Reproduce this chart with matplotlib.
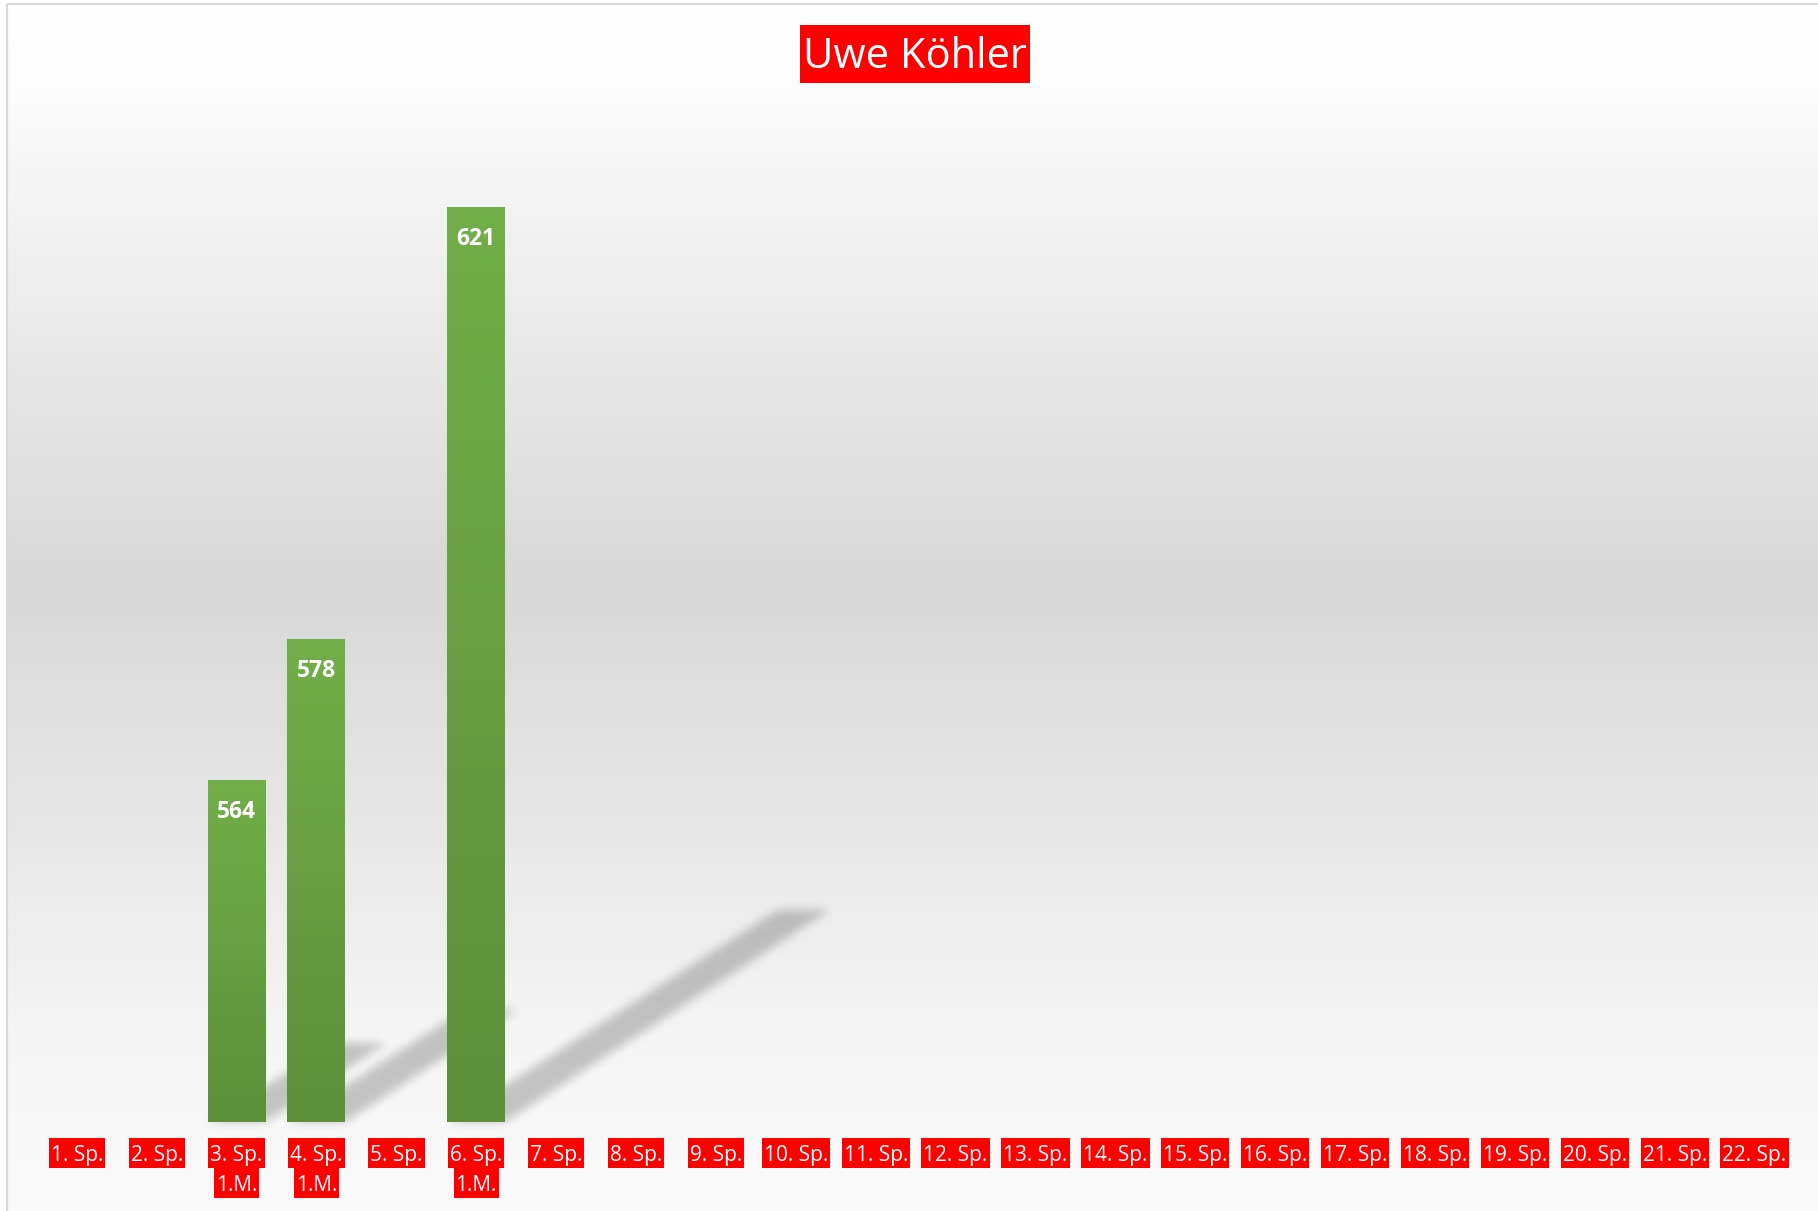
import numpy as np
import matplotlib

matplotlib.use("Agg")
import matplotlib.pyplot as plt
from matplotlib.colors import to_rgb
from matplotlib.patches import Rectangle
from matplotlib.path import Path

W, H, DPI = 1818, 1211, 100
FONT = "Open Sans"
RED = "#ff0000"

title = "Uwe Köhler"
spiele = ["1. Sp.", "2. Sp.", "3. Sp.", "4. Sp.", "5. Sp.", "6. Sp.", "7. Sp.",
          "8. Sp.", "9. Sp.", "10. Sp.", "11. Sp.", "12. Sp.", "13. Sp.",
          "14. Sp.", "15. Sp.", "16. Sp.", "17. Sp.", "18. Sp.", "19. Sp.",
          "20. Sp.", "21. Sp.", "22. Sp."]
zusatz = ["", "", "1.M.", "1.M.", "", "1.M.", "", "", "", "", "", "", "", "",
          "", "", "", "", "", "", "", ""]
punkte = [np.nan, np.nan, 564, 578, np.nan, 621, np.nan, np.nan, np.nan,
          np.nan, np.nan, np.nan, np.nan, np.nan, np.nan, np.nan, np.nan,
          np.nan, np.nan, np.nan, np.nan, np.nan]
y_min, y_max = 530, 630


def box_blur(img, r, passes=3):
    # separable box blur, a few passes ~ gaussian
    for _ in range(passes):
        for axis in (0, 1):
            c = np.cumsum(np.pad(img, [(r + 1, r) if a == axis else (0, 0)
                                       for a in range(2)], mode="edge"), axis=axis)
            if axis == 0:
                img = (c[2 * r + 1:] - c[:-2 * r - 1]) / (2 * r + 1)
            else:
                img = (c[:, 2 * r + 1:] - c[:, :-2 * r - 1]) / (2 * r + 1)
    return img


fig = plt.figure(figsize=(W / DPI, H / DPI), dpi=DPI)
fig.patch.set_facecolor("white")

# ---- background: chart area gradient + border ---------------------------- #
bg = fig.add_axes([0, 0, 1, 1], zorder=0)
bg.set_xlim(0, W)
bg.set_ylim(0, H)
bg.axis("off")
stops_f = [0.0, 0.06, 0.48, 0.88, 1.0]
stops_v = [255, 253, 216, 247, 250]
fr = np.linspace(0, 1, 400)
grey = np.interp(fr, stops_f, stops_v) / 255.0
grad = np.repeat(grey[:, None, None], 3, axis=2)
bg.imshow(grad, extent=[8, W, 0, H - 5], origin="upper", aspect="auto",
          zorder=0, interpolation="bilinear")
bg.plot([7, 7], [0, H - 4], color="#d9d9d9", lw=1.6, zorder=1,
        solid_capstyle="butt")
bg.plot([7, W], [H - 4, H - 4], color="#d9d9d9", lw=1.6, zorder=1,
        solid_capstyle="butt")
bg.set_xlim(0, W)
bg.set_ylim(0, H)

t = bg.text(915, H - 57, title, ha="center", va="center", fontsize=30,
            family=FONT, color="white", zorder=6)

# ---- bars ---------------------------------------------------------------- #
ax = fig.add_axes([36.8 / W, 89 / H, 1757.7 / W, 1005 / H], zorder=1)
ax.patch.set_alpha(0)
x = np.arange(1, len(spiele) + 1)
bars = ax.bar(x, punkte, width=0.725, color="#66a042", zorder=2)
ax.set_xlim(0.5, len(spiele) + 0.5)
ax.set_ylim(y_min, y_max)
for s in ax.spines.values():
    s.set_visible(False)
ax.set_yticks([])
ax.set_xticks(x, spiele)
ax.tick_params(axis="x", length=0, pad=16.4)
for lab in ax.get_xticklabels():
    lab.set_family(FONT)
    lab.set_fontsize(15)
    lab.set_color("white")

second = []
for xi, z in zip(x, zusatz):
    if z:
        second.append(ax.annotate(
            z, xy=(xi, 0), xycoords=("data", "axes fraction"),
            xytext=(0, -38.0), textcoords="offset points", ha="center",
            va="top", fontsize=15, family=FONT, color="white",
            annotation_clip=False))

top_c = np.array(to_rgb("#72ae49"))
bot_c = np.array(to_rgb("#5c8f3a"))
shadow = np.zeros((H, W))
trans = ax.transData
for rect, v in zip(bars, punkte):
    if not np.isfinite(v):
        continue
    x0, w = rect.get_x(), rect.get_width()
    g = np.linspace(top_c, bot_c, 200)[:, None, :]
    ax.imshow(g, extent=[x0, x0 + w, y_min, v], aspect="auto", origin="upper",
              zorder=3, interpolation="bilinear")
    ax.annotate(f"{v:.0f}", (x0 + w / 2, v), xytext=(0, -22.5),
                textcoords="offset points", ha="center", va="center",
                fontsize=16.5, fontweight="bold", family=FONT, color="white",
                zorder=4)
    # perspective shadow, thrown up and to the right
    (X0, Yb), (X1, Yt) = trans.transform([(x0, y_min), (x0 + w, v)])
    h = Yt - Yb
    dx, dy = 0.355 * h, 0.232 * h
    poly = Path([(X0, Yb), (X1, Yb), (X1 + dx, Yb + dy),
                 (X0 + dx + 0.1 * (X1 - X0), Yb + dy), (X0, Yb)])
    xa, xb = int(X0) - 5, int(X1 + dx) + 5
    ya, yb = int(Yb) - 5, int(Yb + dy) + 5
    gx, gy = np.meshgrid(np.arange(xa, xb) + 0.5, np.arange(ya, yb) + 0.5)
    inside = poly.contains_points(np.c_[gx.ravel(), gy.ravel()])
    shadow[ya:yb, xa:xb] = np.maximum(shadow[ya:yb, xa:xb],
                                      inside.reshape(gx.shape))
ax.set_xlim(0.5, len(spiele) + 0.5)
ax.set_ylim(y_min, y_max)

shadow = box_blur(shadow, 4)
over = np.zeros((H, W, 4))
over[..., 3] = 0.21 * shadow
bg.imshow(over, extent=[0, W, 0, H], origin="lower", aspect="auto", zorder=2,
          interpolation="nearest")
bg.set_xlim(0, W)
bg.set_ylim(0, H)

# red highlight blocks behind title and category labels (Excel-style)
fig.canvas.draw()
r = fig.canvas.get_renderer()
tb = t.get_window_extent(r)
bg.add_patch(Rectangle((tb.x0 - 3, H - 83), tb.width + 6, 58,
                       facecolor=RED, edgecolor="none", zorder=5))
for lab in ax.get_xticklabels():
    lb = lab.get_window_extent(r)
    bg.add_patch(Rectangle((lb.x0 - 2, H - 1168), lb.width + 4, 30,
                           facecolor=RED, edgecolor="none", zorder=5))
for a in second:
    lb = a.get_window_extent(r)
    bg.add_patch(Rectangle((lb.x0 - 2, H - 1198), lb.width + 4, 30,
                           facecolor=RED, edgecolor="none", zorder=5))

fig.savefig("out.png", dpi=DPI)
